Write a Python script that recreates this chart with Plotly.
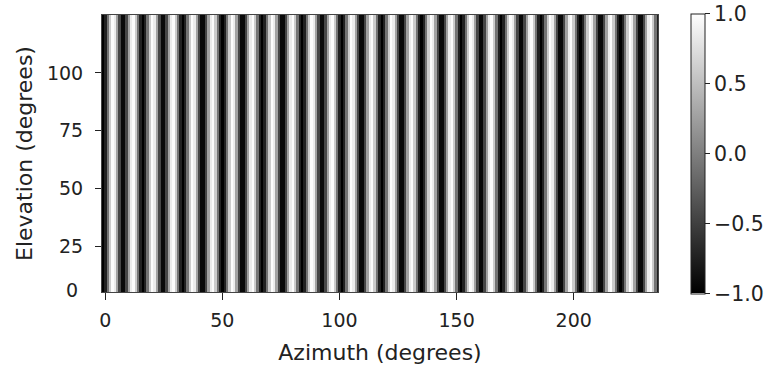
import numpy as np
import plotly.graph_objects as go

# Grating luminance over two stripe cycles (17 one-degree columns), repeated across azimuth
stripe_tile = [-1.00, -0.74, -0.09, 0.60, 0.98, 0.85, 0.27, -0.45, -0.93,
               -0.93, -0.45, 0.27, 0.85, 0.98, 0.60, -0.09, -0.74]
n_columns = 238
azimuth_start = -0.9          # centre of the first column (degrees)
elevation_edges = [5.4, 125.0]  # bottom / top of the image (degrees)

x_ticks = [0, 50, 100, 150, 200]
y_ticks = [25, 50, 75, 100]
cbar_ticks = [-1.0, -0.5, 0.0, 0.5, 1.0]
cbar_labels = ["\u22121.0", "\u22120.5", "0.0", "0.5", "1.0"]

row = np.tile(stripe_tile, n_columns // len(stripe_tile) + 1)[:n_columns]
z = [list(row)]

W, H = 777, 372
left, right, top, bottom = 102, 659, 15, 294
font = dict(family="DejaVu Sans", size=19, color="#222")
cbar_font = dict(family="DejaVu Sans", size=20.5, color="#222")
title_font = dict(family="DejaVu Sans", size=22, color="#222")

fig = go.Figure(go.Heatmap(
    z=z,
    x0=azimuth_start, dx=1.0,
    y=elevation_edges,
    zmin=-1, zmax=1,
    colorscale=[[0, "black"], [1, "white"]],
    colorbar=dict(
        x=(692.5 - left) / (right - left), xanchor="left", xpad=0,
        y=0.5, yanchor="middle", ypad=0,
        lenmode="pixels", len=280, thickness=14,
        outlinewidth=1, outlinecolor="#222",
        tickmode="array", tickvals=cbar_ticks, ticktext=cbar_labels,
        ticks="outside", ticklen=5, tickcolor="#222", tickwidth=1,
        tickfont=cbar_font,
    ),
    hoverinfo="skip",
))

fig.update_layout(
    width=W, height=H,
    margin=dict(l=left, r=W - right, t=top, b=H - bottom),
    paper_bgcolor="white", plot_bgcolor="white",
    font=font,
    xaxis=dict(
        range=[-1.4, 236.0], tickmode="array", tickvals=x_ticks,
        ticks="outside", ticklen=7, tickcolor="#222", ticklabelstandoff=4,
        showline=True, linecolor="#444", linewidth=1, mirror=True,
        showgrid=False, zeroline=False,
        title=dict(text="Azimuth (degrees)", font=title_font, standoff=14),
    ),
    yaxis=dict(
        range=elevation_edges, tickmode="array", tickvals=y_ticks,
        ticks="outside", ticklen=6, tickcolor="#222", ticklabelstandoff=8,
        showline=True, linecolor="#444", linewidth=1, mirror=True,
        showgrid=False, zeroline=False,
        title=dict(text="Elevation (degrees)", font=title_font, standoff=8),
    ),
    annotations=[dict(
        text="0", xref="paper", yref="y", x=-0.04, y=elevation_edges[0] + 1,
        xanchor="right", yanchor="middle", showarrow=False, font=font,
    )],
)

fig.write_html("out.html")
